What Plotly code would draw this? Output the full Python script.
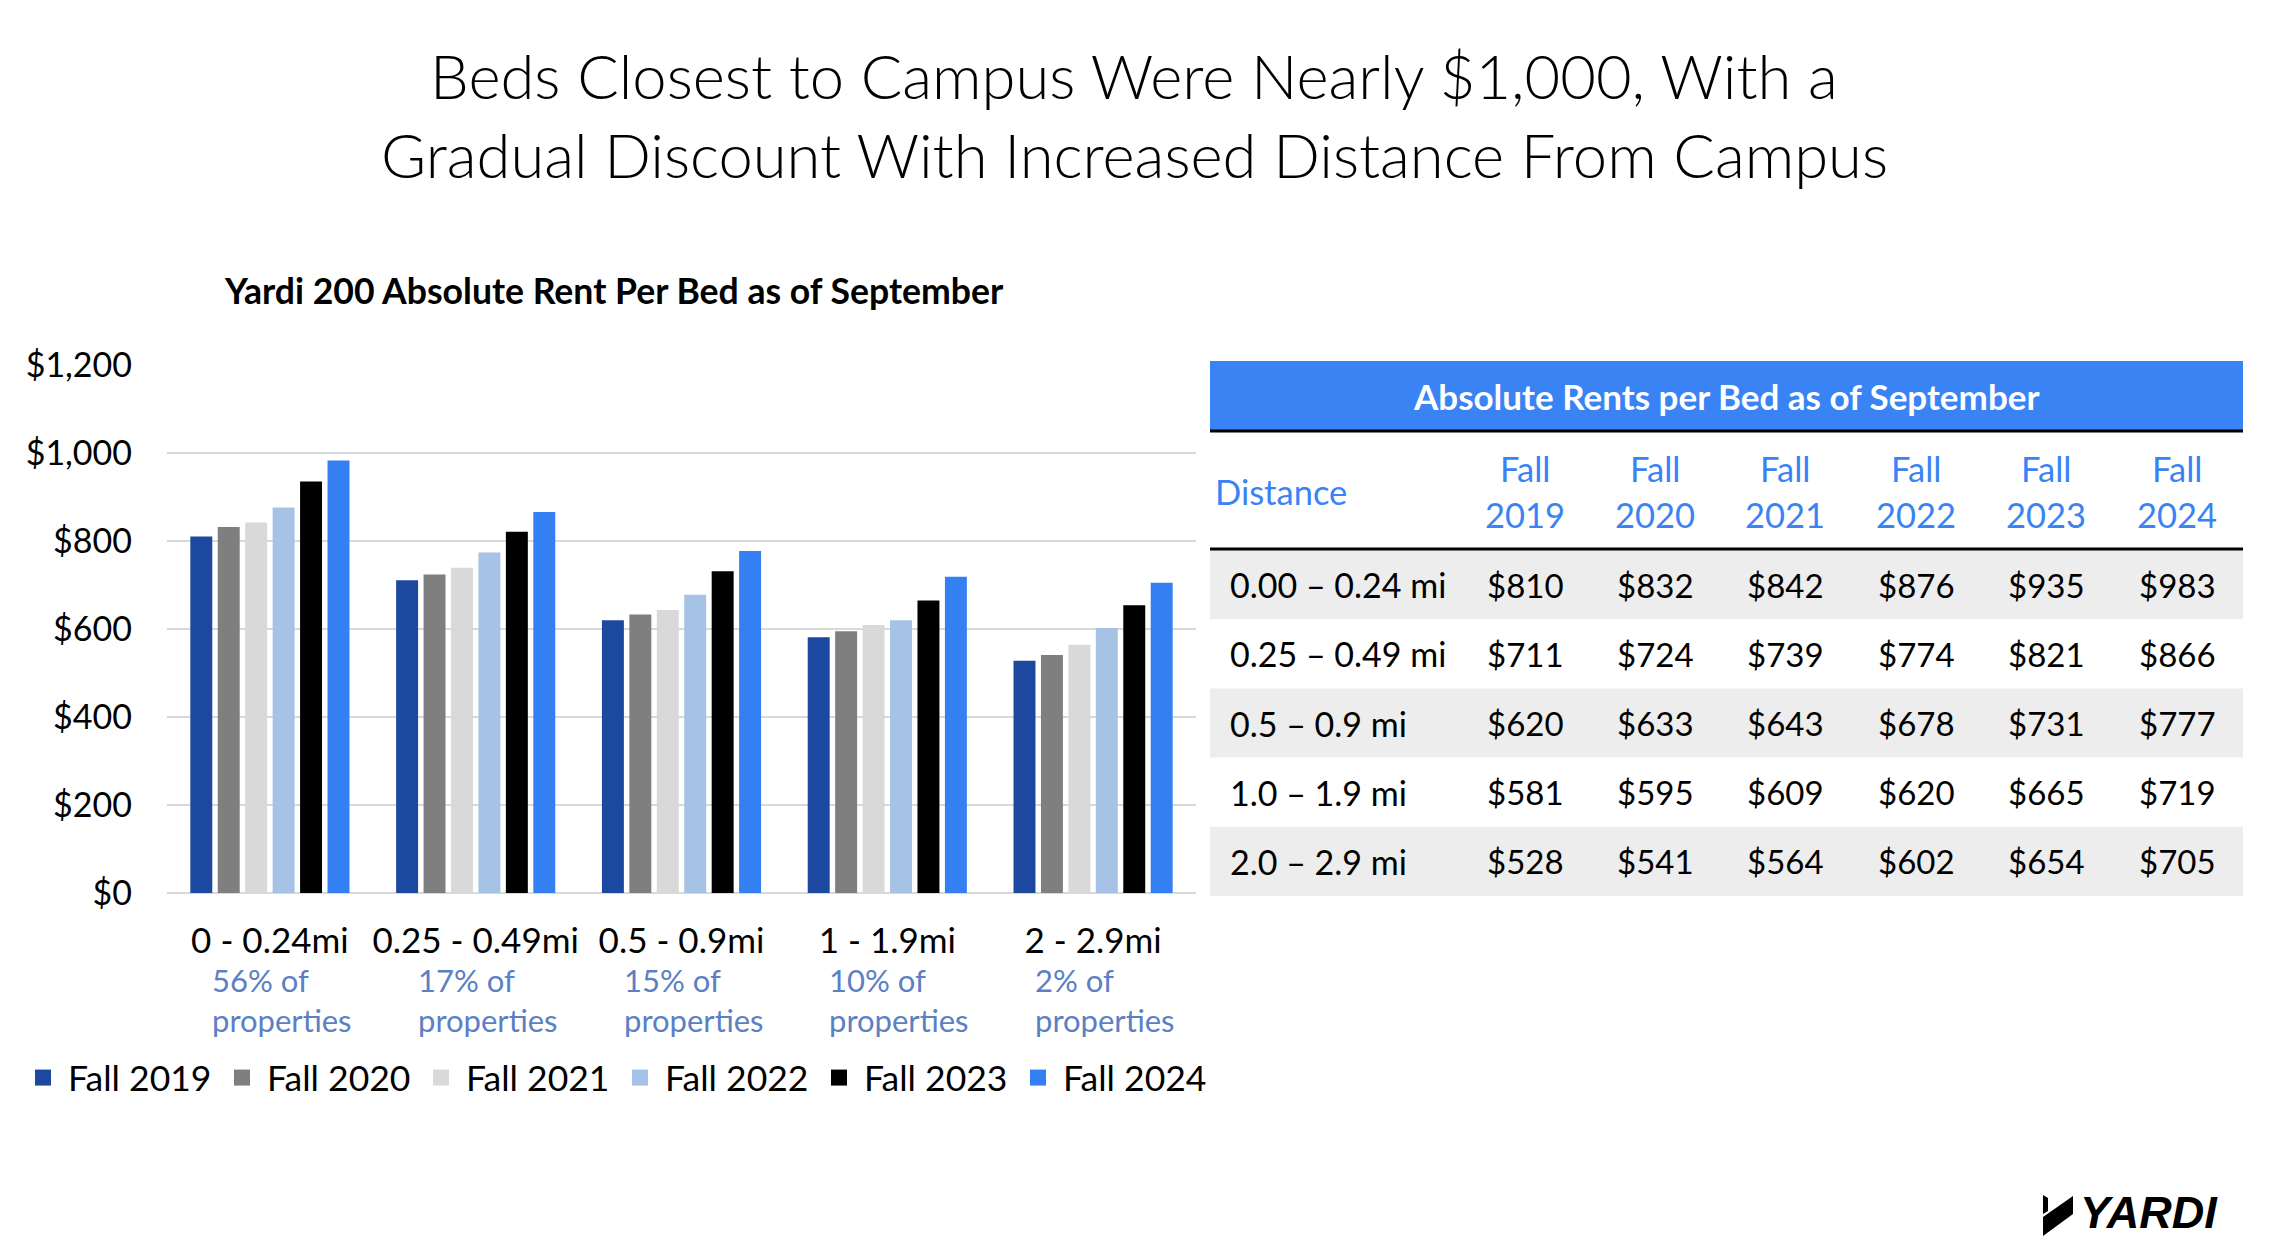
import plotly.graph_objects as go

W, H = 2276, 1250

# ---------------- data ----------------
categories = ["0 - 0.24mi", "0.25 - 0.49mi", "0.5 - 0.9mi", "1 - 1.9mi", "2 - 2.9mi"]
property_share = ["56% of", "17% of", "15% of", "10% of", "2% of"]
series_names = ["Fall 2019", "Fall 2020", "Fall 2021", "Fall 2022", "Fall 2023", "Fall 2024"]
fall_2019 = [810, 711, 620, 581, 528]
fall_2020 = [832, 724, 633, 595, 541]
fall_2021 = [842, 739, 643, 609, 564]
fall_2022 = [876, 774, 678, 620, 602]
fall_2023 = [935, 821, 731, 665, 654]
fall_2024 = [983, 866, 777, 719, 705]
table_distances = ["0.00 – 0.24 mi", "0.25 – 0.49 mi", "0.5 – 0.9 mi", "1.0 – 1.9 mi", "2.0 – 2.9 mi"]
y_ticks = [0, 200, 400, 600, 800, 1000, 1200]

series_values = [fall_2019, fall_2020, fall_2021, fall_2022, fall_2023, fall_2024]

# ---------------- style ----------------
colors = ["#1C48A0", "#7F7F7F", "#D9D9D9", "#A6C3E5", "#000000", "#3480F2"]
FONT = "Lato"
BLUE = "#3A83F5"
SHARE_COL = "#5B80C4"


def px(x):
    return x / W


def py(y):
    return 1 - y / H


fig = go.Figure()
for name, vals, col in zip(series_names, series_values, colors):
    fig.add_trace(go.Bar(x=categories, y=vals, name=name, legendgroup=name,
                         showlegend=False,
                         marker=dict(color=col, line=dict(width=0))))
# legend swatches (larger squares than the bar legend icon)
for name, col in zip(series_names, colors):
    fig.add_trace(go.Scatter(x=[categories[0]], y=[None], name=name, legendgroup=name,
                             mode="markers", showlegend=True, hoverinfo="skip",
                             marker=dict(symbol="square", size=16, color=col)))

annotations = []
shapes = []

# titles
TITLE_FONT = dict(family=FONT, size=61.5, color="#000", weight=300)
annotations.append(dict(text="Beds Closest to Campus Were Nearly $1,000, With a",
                        x=px(1134), y=py(75), xref="paper", yref="paper",
                        showarrow=False, xanchor="center", yanchor="middle",
                        font=TITLE_FONT))
annotations.append(dict(text="Gradual Discount With Increased Distance From Campus",
                        x=px(1134), y=py(154), xref="paper", yref="paper",
                        showarrow=False, xanchor="center", yanchor="middle",
                        font=TITLE_FONT))
annotations.append(dict(text="<b>Yardi 200 Absolute Rent Per Bed as of September</b>",
                        x=px(614), y=py(290), xref="paper", yref="paper",
                        showarrow=False, xanchor="center", yanchor="middle",
                        font=dict(family=FONT, size=35.6, color="#000")))

# share text under category labels
for cat, share in zip(categories, property_share):
    annotations.append(dict(text=f"{share}<br>properties", x=cat, xref="x",
                            y=py(1000), yref="paper", xanchor="left", yanchor="middle",
                            xshift=-60, align="left", showarrow=False,
                            font=dict(family=FONT, size=31, color=SHARE_COL)))

# ---------------- table ----------------
T_L, T_R = 1210, 2243
shapes.append(dict(type="rect", xref="paper", yref="paper", x0=px(T_L), x1=px(T_R),
                   y0=py(430), y1=py(361), fillcolor=BLUE, line=dict(width=0), layer="below"))
annotations.append(dict(text="<b>Absolute Rents per Bed as of September</b>",
                        x=px(1726), y=py(396), xref="paper", yref="paper",
                        showarrow=False, xanchor="center", yanchor="middle",
                        font=dict(family=FONT, size=35, color="white")))
for ly in (431, 549):
    shapes.append(dict(type="line", xref="paper", yref="paper", x0=px(T_L), x1=px(T_R),
                       y0=py(ly), y1=py(ly), line=dict(color="black", width=3)))

col_centers = [1525, 1655, 1785, 1916, 2046, 2177]
annotations.append(dict(text="Distance", x=px(1213), y=py(491), xref="paper", yref="paper",
                        showarrow=False, xanchor="left", yanchor="middle",
                        font=dict(family=FONT, size=34.5, color=BLUE)))
for cx, name in zip(col_centers, series_names):
    word, year = name.split(" ")
    annotations.append(dict(text=word, x=px(cx), y=py(468), xref="paper", yref="paper",
                            showarrow=False, xanchor="center", yanchor="middle",
                            font=dict(family=FONT, size=34.5, color=BLUE)))
    annotations.append(dict(text=year, x=px(cx), y=py(514), xref="paper", yref="paper",
                            showarrow=False, xanchor="center", yanchor="middle",
                            font=dict(family=FONT, size=34.5, color=BLUE)))

row_top, row_h = 550, 69.2
for r, dist in enumerate(table_distances):
    y0 = row_top + r * row_h
    y1 = y0 + row_h
    if r % 2 == 0:
        shapes.append(dict(type="rect", xref="paper", yref="paper", x0=px(T_L), x1=px(T_R),
                           y0=py(y1), y1=py(y0), fillcolor="#EDEDED", line=dict(width=0),
                           layer="below"))
    yc = (y0 + y1) / 2
    annotations.append(dict(text=dist, x=px(1228), y=py(yc), xref="paper", yref="paper",
                            showarrow=False, xanchor="left", yanchor="middle",
                            font=dict(family=FONT, size=34, color="black")))
    for cx, vals in zip(col_centers, series_values):
        annotations.append(dict(text=f"${vals[r]:,}", x=px(cx), y=py(yc), xref="paper",
                                yref="paper", showarrow=False, xanchor="center",
                                yanchor="middle",
                                font=dict(family=FONT, size=33, color="black")))

# ---------------- logo ----------------
def path(points):
    s = "M " + " L ".join(f"{px(a):.5f},{py(b):.5f}" for a, b in points) + " Z"
    return s

shapes.append(dict(type="path", xref="paper", yref="paper",
                   path=path([(2043, 1217), (2073, 1196), (2073, 1214), (2043, 1236)]),
                   fillcolor="black", line=dict(width=0)))
shapes.append(dict(type="path", xref="paper", yref="paper",
                   path=path([(2043, 1195), (2048, 1198), (2048, 1211), (2043, 1214)]),
                   fillcolor="black", line=dict(width=0)))
annotations.append(dict(text="YARDI", x=px(2078), y=py(1212), xref="paper", yref="paper",
                        showarrow=False, xanchor="left", yanchor="middle",
                        font=dict(family="Liberation Sans", size=45, color="black",
                                  weight="bold", style="italic")))

fig.update_layout(
    width=W, height=H,
    margin=dict(l=0, r=0, t=0, b=0, autoexpand=False),
    paper_bgcolor="white", plot_bgcolor="white",
    barmode="group", bargap=0.2, bargroupgap=0.2,
    font=dict(family=FONT, color="black"),
    showlegend=True,
    legend=dict(orientation="h", x=px(18), y=py(1078), xanchor="left", yanchor="middle",
                font=dict(family=FONT, size=35.5, color="black"),
                itemwidth=40, entrywidth=144, entrywidthmode="pixels",
                traceorder="normal", bgcolor="rgba(0,0,0,0)"),
    xaxis=dict(domain=[px(167), px(1196)], showgrid=False, showline=False, ticks="",
               tickfont=dict(family=FONT, size=35, color="black"), ticklabelstandoff=24,
               fixedrange=True),
    yaxis=dict(domain=[py(893), py(365)], range=[0, 1200], tickvals=y_ticks,
               tickformat="$,.0f", showgrid=True, gridcolor="#D9D9D9", gridwidth=2,
               zeroline=True, zerolinecolor="#D9D9D9", zerolinewidth=2, showline=False,
               ticks="", tickfont=dict(family=FONT, size=34, color="black"),
               ticklabelstandoff=34, fixedrange=True),
    annotations=annotations, shapes=shapes,
)

fig.write_html("out.html", config={"displayModeBar": False},
               post_script="document.body.style.margin='0';document.body.style.overflow='hidden';")
